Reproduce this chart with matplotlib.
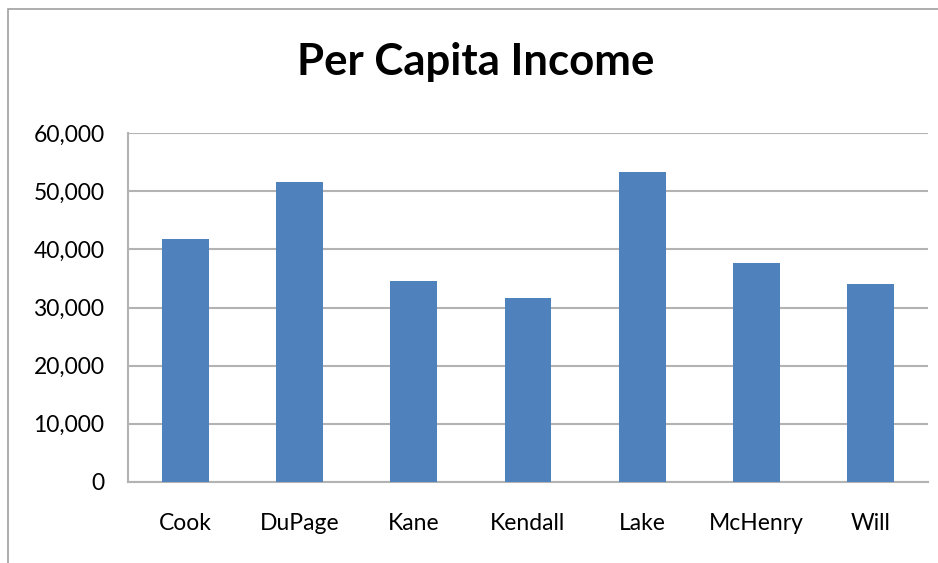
import matplotlib
matplotlib.use("Agg")
import matplotlib.pyplot as plt
from matplotlib.patches import Rectangle

counties = ["Cook", "DuPage", "Kane", "Kendall", "Lake", "McHenry", "Will"]
income = [41700, 51600, 34500, 31700, 53300, 37600, 34100]
yticks = [0, 10000, 20000, 30000, 40000, 50000, 60000]
ytick_labels = ["0", "10,000", "20,000", "30,000", "40,000", "50,000", "60,000"]

plt.rcParams['font.family'] = ['Lato', 'DejaVu Sans']

W, H = 938, 563
fig = plt.figure(figsize=(W / 100, H / 100), dpi=100)
fig.patch.set_facecolor("white")

# outer chart frame
fig.patches.append(Rectangle((8 / W, -0.1), 1.2, (H - 9) / H + 0.1, transform=fig.transFigure,
                             fill=False, edgecolor="#a0a0a0", linewidth=1.2))

ax = fig.add_axes([128 / W, (H - 482) / H, (928 - 128) / W, (482 - 133) / H])
x = range(len(counties))
ax.bar(x, income, width=0.41, color="#4F81BD", zorder=3)
ax.set_xlim(-0.5, len(counties) - 0.5)
ax.set_ylim(0, 60000)
ax.set_yticks(yticks)
ax.set_yticklabels(ytick_labels, fontsize=16.5)
ax.set_xticks(list(x))
ax.set_xticklabels(counties, fontsize=16.5)
ax.yaxis.grid(True, color="#b3b3b3", linewidth=1.5, zorder=0)
ax.tick_params(axis="both", length=0)
ax.tick_params(axis="y", pad=17)
ax.tick_params(axis="x", pad=22)
for s in ["top", "right"]:
    ax.spines[s].set_visible(False)
for s in ["left", "bottom"]:
    ax.spines[s].set_color("#b3b3b3")
    ax.spines[s].set_linewidth(1.5)

fig.text(476 / W, 1 - 62 / H, "Per Capita Income", ha="center", va="center",
         fontsize=31.5, fontweight="bold")

fig.savefig("out.png", dpi=100)
